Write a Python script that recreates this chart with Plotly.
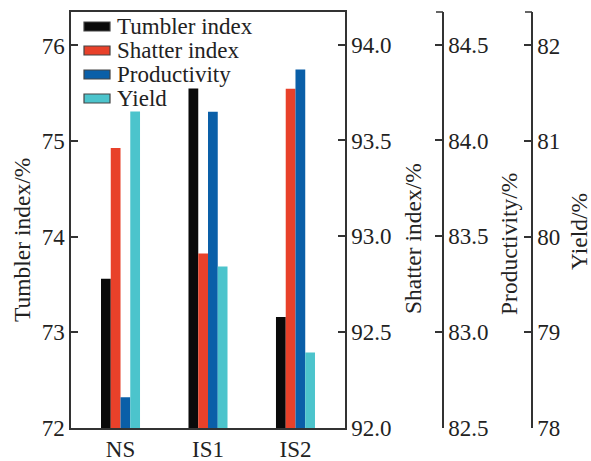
import plotly.graph_objects as go

categories = ["NS", "IS1", "IS2"]
series_names = ["Tumbler index", "Shatter index", "Productivity", "Yield"]
tumbler = [73.56, 75.55, 73.16]
shatter = [93.46, 92.91, 93.77]
productivity = [82.66, 84.15, 84.37]
yield_ = [81.31, 79.69, 78.79]
colors = ["#0a0a0a", "#e8412a", "#0a5fa8", "#4cc4cc"]

W, H = 591, 461
ML, MR, MT, MB = 71, 10, 12, 33
PW = W - ML - MR
PH = H - MT - MB
FONT = "Liberation Serif, Times New Roman, serif"
FS = 23.5
LINE = "#333333"

def px(xpix):
    return (xpix - ML) / PW

def py(ypix):
    return 1 - (ypix - MT) / PH

fig = go.Figure()
values = [tumbler, shatter, productivity, yield_]
axes = ["y", "y2", "y3", "y4"]
bw = 0.1115
off0 = -0.223
for i, (name, vals, ax) in enumerate(zip(series_names, values, axes)):
    fig.add_trace(go.Bar(
        x=categories, y=vals, name=name, yaxis=ax,
        width=bw, offset=off0 + i * bw,
        marker=dict(color=colors[i], line=dict(width=0)),
        showlegend=False,
    ))

dom_end = px(345)
axis_common = dict(
    showline=True, linecolor=LINE, linewidth=1.5,
    ticks="inside", ticklen=7, tickwidth=1.5, tickcolor=LINE,
    tickfont=dict(family=FONT, size=23, color="#222"),
    showgrid=False, zeroline=False, automargin=False,
)

fig.update_layout(
    width=W, height=H,
    margin=dict(l=ML, r=MR, t=MT, b=MB, pad=0, autoexpand=False),
    paper_bgcolor="white", plot_bgcolor="white",
    showlegend=False,
    font=dict(family=FONT, size=FS, color="#222"),
    xaxis=dict(domain=[0, dom_end], range=[-0.566, 2.566], showline=True,
               linecolor=LINE, linewidth=1.5, mirror=True, ticks="",
               tickfont=dict(family=FONT, size=23, color="#222"),
               showgrid=False, zeroline=False, automargin=False),
    yaxis=dict(range=[72, 76.35], tickvals=[72, 73, 74, 75, 76], **axis_common),
    yaxis2=dict(range=[92, 94.17], tickvals=[92, 92.5, 93, 93.5, 94],
                ticktext=["92.0", "92.5", "93.0", "93.5", "94.0"],
                overlaying="y", side="right", anchor="x", **axis_common),
    yaxis3=dict(range=[82.5, 84.67], tickvals=[82.5, 83, 83.5, 84, 84.5],
                ticktext=["82.5", "83.0", "83.5", "84.0", "84.5"],
                overlaying="y", side="right", anchor="free", position=px(443), **axis_common),
    yaxis4=dict(range=[78, 82.35], tickvals=[78, 79, 80, 81, 82],
                overlaying="y", side="right", anchor="free", position=px(532), **axis_common),
)

# top end caps for free axes
shapes = []
for xp in [443, 532]:
    shapes.append(dict(type="line", xref="paper", yref="paper",
                       x0=px(xp - 7), x1=px(xp), y0=1, y1=1,
                       line=dict(color=LINE, width=1.5)))

# legend
leg_rows = [26.5, 50.5, 74.5, 98.5]
annotations = []
for i, name in enumerate(series_names):
    yc = leg_rows[i]
    shapes.append(dict(type="rect", xref="paper", yref="paper",
                       x0=px(84), x1=px(110), y0=py(yc + 4.5), y1=py(yc - 4.5),
                       fillcolor=colors[i], line=dict(color="#444", width=1.2)))
    annotations.append(dict(text=name, xref="paper", yref="paper",
                            x=px(115), y=py(yc), xanchor="left", yanchor="middle",
                            showarrow=False, font=dict(family=FONT, size=23, color="#222")))

# axis titles
titles = [("Tumbler index/%", 22, 240), ("Shatter index/%", 413, 239),
          ("Productivity/%", 509, 244), ("Yield/%", 579, 232)]
for t, xc, yc in titles:
    annotations.append(dict(text=t, xref="paper", yref="paper", x=px(xc), y=py(yc),
                            xanchor="center", yanchor="middle", textangle=-90,
                            showarrow=False, font=dict(family=FONT, size=FS, color="#222")))

fig.update_layout(shapes=shapes, annotations=annotations)
fig.write_html("out.html", config={"displayModeBar": False},
               post_script="document.body.style.margin='0px';document.body.style.overflow='hidden';")
